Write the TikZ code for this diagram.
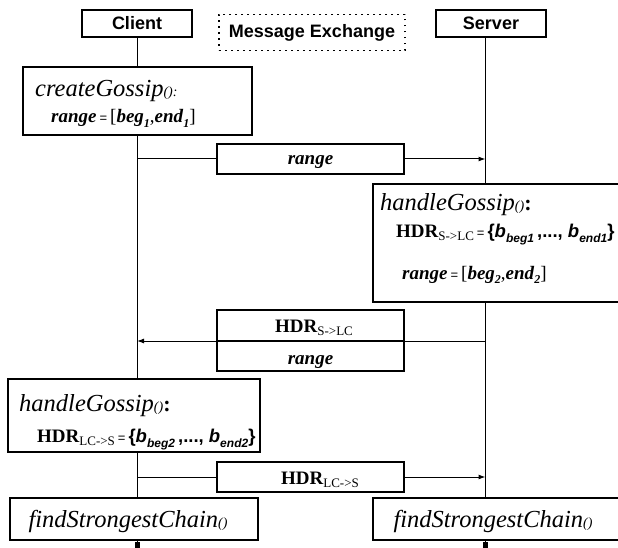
\documentclass[tikz,border=0pt]{standalone}
\usepackage{fontspec}
\setmainfont{Liberation Serif}
\newfontfamily\arialf{Liberation Sans}
\usetikzlibrary{arrows.meta}

% font size helper and text pieces
\newcommand\fsz[1]{\fontsize{#1}{#1}\selectfont}
\newcommand\itsub[1]{\raisebox{-0.25em}{\fsz{12}\bfseries\itshape #1}}
\newcommand\rmsub[1]{\raisebox{-0.3em}{\fsz{13}#1}}
\newcommand\sfsub[1]{\raisebox{-0.3em}{\fsz{12}\arialf\bfseries\itshape #1}}
\newcommand\eqsign{\hspace{3pt}{\arialf\fsz{13}=}\hspace{3pt}}
\newcommand\rangeval[2]{{\fsz{19}\bfseries\itshape range}\eqsign{\fsz{19}[\textbf{\textit{beg}}\itsub{#1},\textbf{\textit{end}}\itsub{#2}]}}
\newcommand\hdr[1]{{\fsz{19}\bfseries HDR}\rmsub{#1}}
\newcommand\bset[2]{{\arialf\fsz{18.5}\bfseries\{\textit{b}\sfsub{#1}\,,...,\ \textit{b}\sfsub{#2}\}}}

\begin{document}
\begin{tikzpicture}[x=1pt,y=-1pt,
  box/.style={draw, line width=1.2pt, fill=white, inner sep=0pt, rectangle},
  title/.style={font=\arialf\bfseries\fsz{18}},
  msg/.style={line width=1pt, -{Latex[length=7pt,width=5pt]}},
  life/.style={line width=1pt},
  txt/.style={inner sep=0pt, anchor=base west},
  ctxt/.style={inner sep=0pt, anchor=base}]
\useasboundingbox (0,0) rectangle (618,548);

% lifeline positions
\coordinate (cl) at (137,0);
\coordinate (sl) at (485.5,0);

% actors
\node[box, title, minimum width=110pt, minimum height=27pt] (client) at (137,23.5) {Client};
\node[box, title, minimum width=110pt, minimum height=27pt] (server) at (491,23.5) {Server};
\node[title, draw, line width=1.8pt, dash pattern=on 1.8pt off 4.2pt, inner sep=0pt,
      minimum width=186pt, minimum height=36pt] (msgx) at (312,32.5) {Message Exchange};

% activity boxes
\node[box, minimum width=229pt, minimum height=68pt] (cg) at (137.5,101) {};
\node[box, minimum width=252pt, minimum height=118pt] (hgs) at (499,243) {};
\node[box, minimum width=252pt, minimum height=73pt] (hgc) at (134,415.5) {};
\node[box, minimum width=248pt, minimum height=42pt] (fscc) at (134,519) {};
\node[box, minimum width=252pt, minimum height=42pt] (fscs) at (499,519) {};

% lifelines
\draw[life] (client.south -| cl) -- (cg.north -| cl);
\draw[life] (cg.south -| cl) -- (hgc.north -| cl);
\draw[life] (hgc.south -| cl) -- (fscc.north -| cl);
\draw[life] (server.south -| sl) -- (hgs.north -| sl);
\draw[life] (hgs.south -| sl) -- (fscs.north -| sl);
\coordinate (endc) at (137,548);
\coordinate (ends) at (485.5,548);
\draw[life] (fscc.south -| cl) -- (endc);
\draw[life] (fscs.south -| sl) -- (ends);
\fill (134.5,542) rectangle (139.5,548);
\fill (483,542) rectangle (488,548);

% messages
\coordinate (m1a) at (137,159);
\coordinate (m1b) at (485.5,159);
\draw[msg] (m1a) -- (m1b);
\node[box, minimum width=187pt, minimum height=30pt] (rbox) at (310.5,159) {};

\node[box, minimum width=187pt, minimum height=31pt] (hdrtop) at (310.5,325.5) {};
\node[box, minimum width=187pt, minimum height=30pt] (hdrbot) at (310.5,356) {};
\coordinate (m2a) at (485.5,341);
\coordinate (m2b) at (137,341);
\draw[msg] (m2a) -- (m2b);

\coordinate (m3a) at (137,477);
\coordinate (m3b) at (485.5,477);
\draw[msg] (m3a) -- (m3b);
\node[box, minimum width=187pt, minimum height=30pt] (hdr2) at (310.5,477) {};

% message labels
\node[ctxt] (rlab) at (310.5,165) {\fsz{19}\bfseries\itshape range};
\node[ctxt] (hlab) at (314,332) {\hdr{S->LC}};
\node[ctxt] (rlab2) at (310.5,364) {\fsz{19}\bfseries\itshape range};
\node[ctxt] (hlab2) at (320,484) {\hdr{LC->S}};

% createGossip
\node[txt] (cg1) at (35,97) {{\fsz{24.5}\itshape createGossip}{\fsz{14}\itshape ():}};
\node[txt] (cg2) at (51,123) {\rangeval{1}{1}};

% handleGossip on the server
\node[txt] (hs1) at (380,211) {{\fsz{24.5}\itshape handleGossip}{\fsz{14}\itshape ()}{\fsz{22}\bfseries :}};
\node[txt] (hs2) at (396,237) {\hdr{S->LC}\eqsign\bset{beg1}{end1}};
\node[txt] (hs3) at (402,279) {\rangeval{2}{2}};

% handleGossip on the client
\node[txt] (hc1) at (19,411) {{\fsz{24.5}\itshape handleGossip}{\fsz{14}\itshape ()}{\fsz{22}\bfseries :}};
\node[txt] (hc2) at (37,442) {\hdr{LC->S}\eqsign\bset{beg2}{end2}};

% findStrongestChain
\node[ctxt] (fc) at (128,527) {{\fsz{24.5}\itshape findStrongestChain}{\fsz{14}\itshape ()}};
\node[ctxt] (fs) at (493,527) {{\fsz{24.5}\itshape findStrongestChain}{\fsz{14}\itshape ()}};
\end{tikzpicture}
\end{document}
